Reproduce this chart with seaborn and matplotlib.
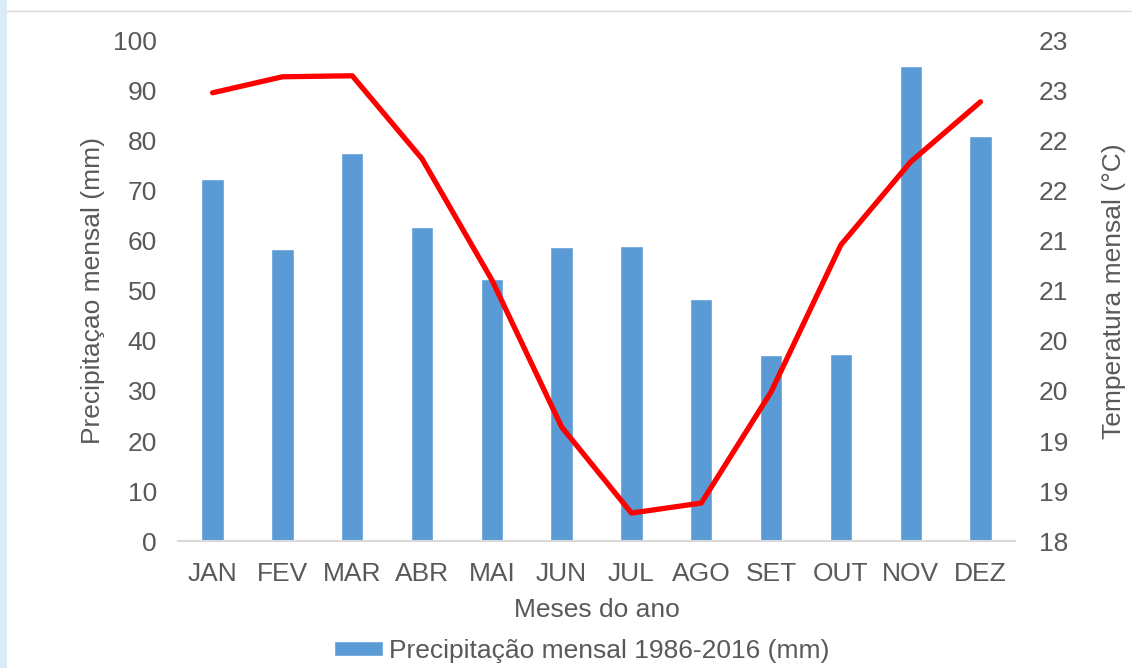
import math
import matplotlib
matplotlib.use("Agg")
import matplotlib.pyplot as plt
from matplotlib.patches import Rectangle
from matplotlib.ticker import FuncFormatter, MultipleLocator
import numpy as np
import pandas as pd
import seaborn as sns

months = ['JAN', 'FEV', 'MAR', 'ABR', 'MAI', 'JUN',
          'JUL', 'AGO', 'SET', 'OUT', 'NOV', 'DEZ']
precip = [72.4, 58.4, 77.6, 62.8, 52.4, 58.8,
          59.0, 48.4, 37.2, 37.4, 95.0, 81.0]
temp = [22.48, 22.64, 22.65, 21.82, 20.61, 19.14,
        18.28, 18.38, 19.49, 20.96, 21.79, 22.39]

sns.set_style("white")
plt.rcParams['font.family'] = ['Liberation Sans', 'DejaVu Sans']
text_col = '#595959'
fs = 19

df = pd.DataFrame({'mes': months, 'precip': precip, 'temp': temp})

fig = plt.figure(figsize=(11.32, 6.68), dpi=100)
# light blue strip on the left and thin frame line on top
fig.patches.append(Rectangle((0, 0), 0.0062, 1, transform=fig.transFigure,
                             facecolor='#DAEBF8', edgecolor='none'))
fig.lines.append(plt.Line2D([0.0062, 1], [0.983, 0.983], transform=fig.transFigure,
                            color='#D9D9D9', lw=1))

ax = fig.add_axes([0.157, 0.19, 0.74, 0.749])
sns.barplot(data=df, x='mes', y='precip', color='#5B9BD5', width=0.32,
            saturation=1, ax=ax, label='Precipitação mensal 1986-2016 (mm)')
ax.set_xlim(-0.5, 11.5)
ax.set_ylim(0, 100)
ax.yaxis.set_major_locator(MultipleLocator(10))
ax.set_xlabel('Meses do ano', fontsize=fs, color=text_col, labelpad=9)
ax.set_ylabel('Precipitaçao mensal (mm)', fontsize=fs, color=text_col, labelpad=6)
ax.tick_params(axis='x', labelsize=fs, colors=text_col, length=0, pad=15)
ax.tick_params(axis='y', labelsize=fs, colors=text_col, length=0, pad=15)
for s in ['top', 'right', 'left']:
    ax.spines[s].set_visible(False)
ax.spines['bottom'].set_color('#D9D9D9')
ax.spines['bottom'].set_linewidth(1.5)
if ax.get_legend() is not None:
    ax.get_legend().remove()

ax2 = ax.twinx()
sns.lineplot(data=df, x='mes', y='temp', sort=False, color='#FF0000',
             linewidth=3.8, ax=ax2)
ax2.set_ylim(18, 23)
ax2.yaxis.set_major_locator(MultipleLocator(0.5))
ax2.yaxis.set_major_formatter(FuncFormatter(lambda v, p: f'{math.floor(v + 0.5):d}'))
ax2.set_ylabel('Temperatura mensal (°C)', fontsize=fs, color=text_col, labelpad=24)
ax2.tick_params(axis='y', labelsize=fs, colors=text_col, length=0, pad=17)
for s in ['top', 'right', 'left', 'bottom']:
    ax2.spines[s].set_visible(False)

handles, labels = ax.get_legend_handles_labels()
fig.legend(handles[:1], labels[:1], loc='lower center', bbox_to_anchor=(0.514, -0.028),
           frameon=False, fontsize=fs, labelcolor=text_col,
           handlelength=1.85, handleheight=0.5, handletextpad=0.22)

fig.savefig('out.png', dpi=100, facecolor='white')
